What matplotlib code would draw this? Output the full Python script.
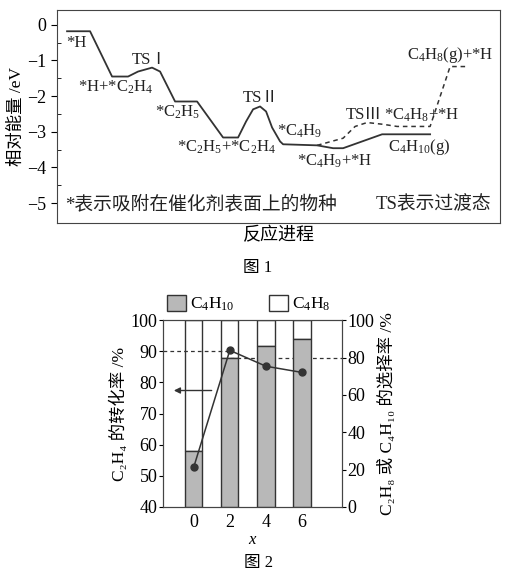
import matplotlib
matplotlib.use('Agg')
import matplotlib.pyplot as plt
from matplotlib.patches import Patch

plt.rcParams['font.family'] = ['Liberation Serif', 'Noto Sans CJK SC']
plt.rcParams['mathtext.fontset'] = 'custom'
plt.rcParams['mathtext.rm'] = 'Liberation Serif'
plt.rcParams['mathtext.it'] = 'Liberation Serif:italic'
plt.rcParams['mathtext.default'] = 'rm'

# ---- 图1 data: reaction coordinate / relative energy (eV) ----
path_x = [67, 90, 112, 128, 138, 152, 160, 165, 175, 197, 223, 238, 246, 253,
          260, 266, 272, 280, 283, 317, 333, 343, 382, 430]
path_e = [-0.18, -0.18, -1.45, -1.45, -1.31, -1.20, -1.31, -1.59, -2.15, -2.15,
          -3.16, -3.16, -2.71, -2.37, -2.29, -2.43, -2.88, -3.27, -3.35, -3.38,
          -3.46, -3.46, -3.07, -3.07]
dash_x = [317, 343, 355, 367, 383, 397, 430, 450, 465]
dash_e = [-3.38, -3.18, -2.85, -2.74, -2.79, -2.85, -2.85, -1.17, -1.17]

labels1 = [
    ('*H', 66, -0.50, 'left'),
    ('TSⅠ', 150, -0.98, 'center'),
    ('*H+*C$_2$H$_4$', 116, -1.76, 'center'),
    ('*C$_2$H$_5$', 178, -2.46, 'center'),
    ('*C$_2$H$_5$+*C$_2$H$_4$', 226, -3.44, 'center'),
    ('TSⅡ', 261, -2.04, 'center'),
    ('*C$_4$H$_9$', 300, -2.99, 'center'),
    ('*C$_4$H$_9$+*H', 335, -3.83, 'center'),
    ('TSⅢ', 364, -2.53, 'center'),
    ('*C$_4$H$_8$+*H', 422, -2.53, 'center'),
    ('C$_4$H$_{10}$(g)', 419, -3.44, 'center'),
    ('C$_4$H$_8$(g)+*H', 450, -0.84, 'center'),
]

# ---- 图2 data ----
x_vals = [0, 2, 4, 6]
conversion = [52.7, 90.3, 85.2, 83.2]      # C2H4 转化率, left axis
sel_c4h10 = [30, 80, 86, 90]               # right axis
sel_c4h8 = [100 - v for v in sel_c4h10]

fig = plt.figure(figsize=(5.14, 5.8), dpi=100)

# ---------------- 图1 ----------------
ax1 = fig.add_axes([0.111, 0.616, 0.862, 0.367])
ax1.plot(path_x, path_e, color='#333333', lw=1.3)
ax1.plot(dash_x, dash_e, color='#333333', lw=1.1, ls=(0, (3, 2.5)))
for txt, x, y, ha in labels1:
    ax1.text(x, y, txt, ha=ha, va='center', fontsize=12, color='#222222')
ax1.text(65, -5.03, '*表示吸附在催化剂表面上的物种', ha='left', va='center',
         fontsize=13.5, color='#222222')
ax1.text(491, -5.03, 'TS表示过渡态', ha='right', va='center',
         fontsize=13.5, color='#222222')
ax1.set_xlim(57, 500)
ax1.set_ylim(-5.55, 0.42)
ax1.set_xticks([])
ax1.set_yticks([0, -1, -2, -3, -4, -5])
ax1.set_yticklabels(['0', '−1', '−2', '−3', '−4', '−5'])
ax1.set_yticks([-0.5, -1.5, -2.5, -3.5, -4.5], minor=True)
ax1.tick_params(axis='y', which='major', direction='out', length=4, labelsize=13)
ax1.tick_params(axis='y', which='minor', direction='in', length=3)
ax1.set_ylabel('相对能量 /eV', fontsize=12.5, labelpad=2)
ax1.set_xlabel('反应进程', fontsize=13, labelpad=3)
for s in ax1.spines.values():
    s.set_color('#444444')
fig.text(0.502, 0.538, '图 1', ha='center', va='center', fontsize=12)

# ---------------- 图2 ----------------
ax = fig.add_axes([0.317, 0.126, 0.348, 0.322])
ax2 = ax.twinx()
ax2.bar(x_vals, sel_c4h8, bottom=sel_c4h10, width=0.95, color='white',
        edgecolor='#333333', lw=1, zorder=1)
ax2.plot([2, 8.2], [80, 80], color='#333333', lw=0.9, ls=(0, (3, 2.5)), zorder=2)
ax2.bar(x_vals, sel_c4h10, width=0.95, color='#b8b8b8',
        edgecolor='#333333', lw=1, zorder=3)
ax2.set_ylim(0, 100)
ax2.set_yticks([0, 20, 40, 60, 80, 100])
ax2.tick_params(axis='y', direction='out', length=3, labelsize=13, pad=1)
ax2.set_ylabel('C₂H₈ 或 C₄H₁₀ 的选择率 /%', fontsize=12.5,
               rotation=90, labelpad=3)

ax.set_zorder(ax2.get_zorder() + 1)
ax.patch.set_visible(False)
ax.plot([-1.7, 2], [90, 90], color='#333333', lw=0.9, ls=(0, (3, 2.5)))
ax.plot(x_vals, conversion, color='#333333', lw=1.1, marker='o', ms=5)
ax.annotate('', xy=(-1.25, 77.4), xytext=(1.15, 77.4),
            arrowprops=dict(arrowstyle='-|>', color='#333333', lw=1,
                            mutation_scale=9))
ax.set_xlim(-1.7, 8.2)
ax.set_ylim(40, 100)
ax.set_xticks(x_vals)
ax.set_yticks([40, 50, 60, 70, 80, 90, 100])
ax.tick_params(axis='x', length=0, labelsize=13, pad=5)
ax.tick_params(axis='y', direction='out', length=3, labelsize=13, pad=1)
ax.set_xlabel('$\\mathit{x}$', fontsize=12, labelpad=1)
ax.set_ylabel('C₂H₄ 的转化率 /%', fontsize=12.5, labelpad=2)
for s in list(ax.spines.values()) + list(ax2.spines.values()):
    s.set_color('#444444')

handles = [Patch(facecolor='#b8b8b8', edgecolor='#333333', label='C$_4$H$_{10}$'),
           Patch(facecolor='white', edgecolor='#333333', label='C$_4$H$_8$')]
ax.legend(handles=handles, ncol=2, frameon=False, loc='lower center',
          bbox_to_anchor=(0.48, 0.99), fontsize=12.5, handlelength=1.1,
          handleheight=1.1, handletextpad=0.2, columnspacing=2.0,
          borderaxespad=0.1)
fig.text(0.502, 0.029, '图 2', ha='center', va='center', fontsize=12)

fig.savefig('out.png', dpi=100)
